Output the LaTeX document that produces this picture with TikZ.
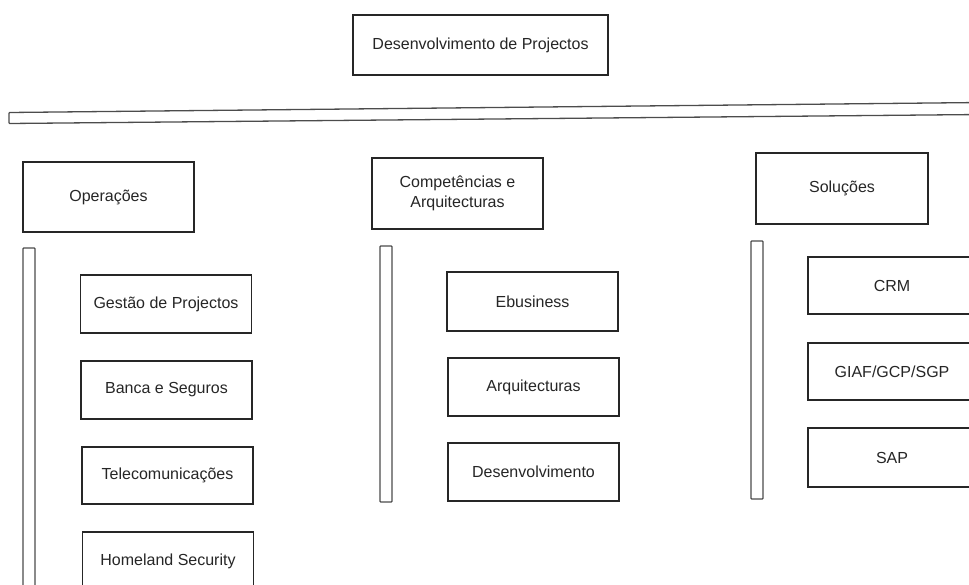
\documentclass[tikz,border=0pt]{standalone}
\usepackage{fontspec}
\setmainfont{Liberation Sans}
\begin{document}
\begin{tikzpicture}[x=1pt,y=-1pt,
  box/.style={draw=black!85, line width=1.3pt, fill=white, inner sep=0pt,
    align=center, text=black!85, font=\fontsize{16}{20}\selectfont},
  wbox/.style={box, minimum width=171pt, minimum height=58pt},
  headbox/.style={box, minimum width=171pt, minimum height=71pt},
  bar/.style={draw=black!70, line width=1.3pt, fill=white, rounded corners=0.8pt}]
\useasboundingbox (0,0) rectangle (969,584);

% title
\node[box, line width=2pt, minimum width=255pt, minimum height=60pt] (top) at (480.5,45)
  {Desenvolvimento de Projectos};

% horizontal band under the title
\draw[bar] (9,112.5) -- (980,102.5) -- (980,114.5) -- (9,123.5) -- cycle;

% column heads
\node[headbox, minimum height=70pt] (ops) at (108.5,197) {Operações};
\node[headbox] (comp) at (457.5,193.5) {Competências e\\Arquitecturas};
\node[headbox, minimum width=172pt] (sol) at (842,188.5) {Soluções};

% vertical bands
\draw[bar] (23,248) rectangle (35,600);
\draw[bar] (380,246) rectangle (392,502);
\draw[bar] (751,241) rectangle (763,499);

% Operações
\node[wbox] (gp) at (166,304) {Gestão de Projectos};
\node[wbox] (bs) at (166.5,390) {Banca e Seguros};
\node[wbox, minimum height=57pt] (tc) at (167.5,475.5) {Telecomunicações};
\node[wbox] (hs) at (168,561) {Homeland Security};

% Competências e Arquitecturas
\node[wbox, minimum height=59pt] (eb) at (532.5,301.5) {Ebusiness};
\node[wbox] (aq) at (533.5,387) {Arquitecturas};
\node[wbox] (dv) at (533.5,472) {Desenvolvimento};

% Soluções
\node[wbox, minimum width=168pt, minimum height=57pt] (crm) at (892,285.5) {CRM};
\node[wbox, minimum width=168pt, minimum height=57pt] (giaf) at (892,371.5) {GIAF/GCP/SGP};
\node[wbox, minimum width=168pt, minimum height=59pt] (sap) at (892,457.5) {SAP};
\end{tikzpicture}
\end{document}
